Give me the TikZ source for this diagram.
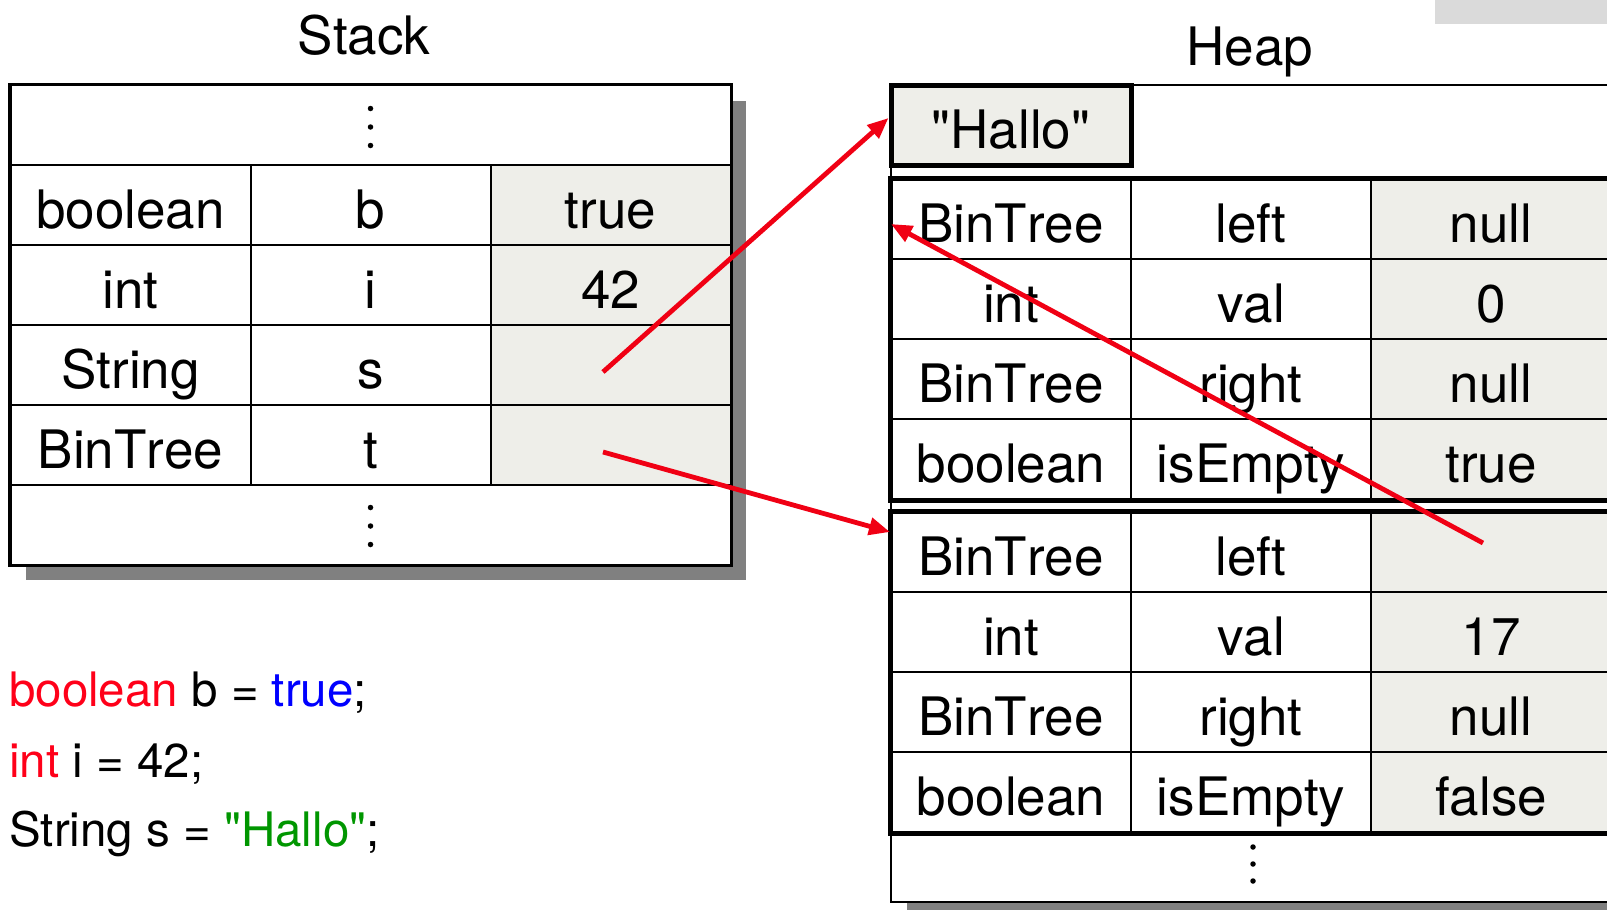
\documentclass[tikz,border=0pt]{standalone}
\usepackage{fontspec}
\setmainfont{TeX Gyre Heros}[Ligatures=TeXOff, Kerning=Off]
\usetikzlibrary{arrows.meta,calc}
\definecolor{cellgray}{RGB}{238,238,233}
\definecolor{shadegray}{RGB}{128,128,128}
\definecolor{bargray}{RGB}{218,218,218}
\definecolor{ptrred}{RGB}{240,0,20}
\definecolor{kwred}{RGB}{255,0,25}
\definecolor{litblue}{RGB}{0,0,255}
\definecolor{strgreen}{RGB}{0,150,0}
\newcommand{\cellfont}{\fontsize{53}{60}\selectfont}
\newcommand{\codefont}{\fontsize{47.5}{54}\selectfont}
\begin{document}
\begin{tikzpicture}[x=1pt,y=-1pt,
  cell/.style={draw=black, line width=2pt, minimum width=240pt, minimum height=80pt,
    inner sep=0pt, text height=47pt, text depth=0pt, font=\cellfont},
  valcell/.style={cell, fill=cellgray},
  objframe/.style={draw=black, line width=5pt},
  area/.style={draw=black, line width=2pt, fill=white, inner sep=0pt},
  shade/.style={fill=shadegray, draw=none},
  title/.style={font=\cellfont, anchor=base, inner sep=0pt},
  code/.style={font=\codefont, anchor=base west, inner sep=0pt},
  dotmark/.style={fill=black, draw=none, circle, minimum size=5.5pt, inner sep=0pt},
  pointer/.style={draw=ptrred, line width=4.8pt, -{Triangle[length=21pt,width=17pt]}}]

\useasboundingbox (0,0) rectangle (1607,910);

% grey bar in the upper right corner
\fill[bargray] (1435,0) rectangle (1607,24);

% titles
\node[title] (stacktitle) at (364,54) {Stack};
\node[title] (heaptitle) at (1250,65) {Heap};

% ---------- stack ----------
\fill[shade] (26,101) rectangle (746,580);
\node[area, minimum width=720pt, minimum height=480pt] (stack) at (370.5,325) {};
\foreach \dy in {-18.5,0,18.5} {
  \node[dotmark] at (370.5,127+\dy) {};
  \node[dotmark] at (370.5,526+\dy) {};
}
\foreach \r/\ty/\nm/\vl in {1/boolean/b/true, 2/int/i/42, 3/String/s/{}, 4/BinTree/t/{}} {
  \node[cell]    (st-\r-1) at (130.5,125+80*\r) {\ty};
  \node[cell]    (st-\r-2) at (370.5,125+80*\r) {\nm};
  \node[valcell] (st-\r-3) at (610.5,125+80*\r) {\vl};
}
\draw[line width=2.5pt] (stack.north west) rectangle (stack.south east);

% ---------- heap ----------
\fill[shade] (907,101) rectangle (1640,918);
\node[area, minimum width=730pt, minimum height=817pt] (heap) at (1256,493.5) {};
\foreach \dy in {-17,0,17} {
  \node[dotmark] at (1253,864+\dy) {};
}

% string object
\node[valcell, line width=5pt] (hallo) at (1011,125) {"Hallo"};

% first tree node
\foreach \r/\ty/\nm/\vl in {1/BinTree/left/null, 2/int/val/0, 3/BinTree/right/null, 4/boolean/isEmpty/true} {
  \node[cell]    (oa-\r-1) at (1011,139+80*\r) {\ty};
  \node[cell]    (oa-\r-2) at (1251,139+80*\r) {\nm};
  \node[valcell] (oa-\r-3) at (1491,139+80*\r) {\vl};
}
\draw[objframe] (oa-1-1.north west) rectangle (oa-4-3.south east);

% second tree node
\foreach \r/\ty/\nm/\vl in {1/BinTree/left/{}, 2/int/val/17, 3/BinTree/right/null, 4/boolean/isEmpty/false} {
  \node[cell]    (ob-\r-1) at (1011,472+80*\r) {\ty};
  \node[cell]    (ob-\r-2) at (1251,472+80*\r) {\nm};
  \node[valcell] (ob-\r-3) at (1491,472+80*\r) {\vl};
}
\draw[objframe] (ob-1-1.north west) rectangle (ob-4-3.south east);

% ---------- references ----------
\coordinate (sref) at ($(st-3-3.center)+(-7.5,7)$);
\coordinate (tref) at ($(st-4-3.center)+(-7.5,7)$);
\coordinate (lref) at ($(ob-1-3.center)+(-8,-9)$);
\coordinate (halloin) at ($(hallo.west)+(0,-7)$);
\coordinate (obin) at ($(ob-1-1.west)+(0,-20)$);
\coordinate (oain) at ($(oa-1-1.west)+(1,5)$);
\draw[pointer] (sref) -- (halloin);
\draw[pointer] (tref) -- (obin);
\draw[pointer] (lref) -- (oain);

% ---------- source code ----------
\node[code] (line1) at (9,706) {\textcolor{kwred}{boolean} b = \textcolor{litblue}{true};};
\node[code] (line2) at (9,777) {\textcolor{kwred}{int} i = 42;};
\node[code] (line3) at (9,846) {String s = \textcolor{strgreen}{"Hallo"};};
\end{tikzpicture}
\end{document}
